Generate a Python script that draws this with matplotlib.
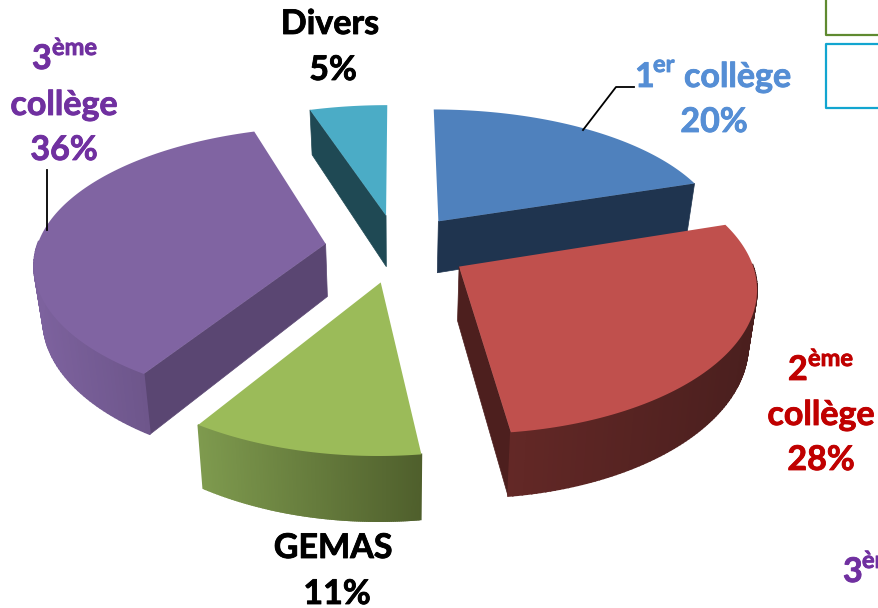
import numpy as np
import matplotlib
matplotlib.use("Agg")
import matplotlib.pyplot as plt
import matplotlib.patheffects as pe

# share of each slice, clockwise from the top
categories = ["1er collège", "2ème collège", "GEMAS", "3ème collège", "Divers"]
shares = [20, 28, 11, 36, 5]

top_colors = ["#4F81BD", "#C0504D", "#9BBB59", "#8064A2", "#4BACC6"]
face_colors = ["#1F344F", "#4D1F1E", "#5A7030", "#5A4672", "#1F4954"]
# outer wall colour, left end then right end on screen
wall_left = ["#1F344F", "#632826", "#7E9A4E", "#7D629E", "#1F4954"]
wall_right = ["#1F344F", "#4A1F1E", "#4F5F2C", "#5E4A78", "#1F4954"]

# position of the pie on the page
cx, cy = 397, 248
rx, px = 289, 0.13
k, p = 136, 0.15
depth = 53
shrink = 0.025
explode = 0.25


def project(u, v, z=0):
    wx = 1 + px * v
    wy = 1 + p * v
    return cx + rx * u / wx * (1 - shrink * z), cy + (-k * v + z * depth) / wy


def mix(c1, c2, t):
    a = np.array(matplotlib.colors.to_rgb(c1))
    b = np.array(matplotlib.colors.to_rgb(c2))
    return tuple(a + (b - a) * t)


fig = plt.figure(figsize=(8.79, 6.08), dpi=100)
ax = fig.add_axes([0, 0, 1, 1])
ax.set_xlim(0, 879)
ax.set_ylim(608, 0)
ax.axis("off")

bounds = np.cumsum([0] + shares) / sum(shares) * 2 * np.pi

# back slices first, red last because it overlaps the blue wall
for i in [4, 0, 3, 2, 1]:
    a0, a1 = bounds[i], bounds[i + 1]
    mid = (a0 + a1) / 2
    ou, ov = explode * np.sin(mid), explode * np.cos(mid)
    ang = np.linspace(a0, a1, 120)
    ru, rv = ou + np.sin(ang), ov + np.cos(ang)

    # cut faces that look towards the viewer
    for a, visible in [(a0, np.sin(a0) < 0), (a1, np.sin(a1) > 0)]:
        if visible:
            eu, ev = ou + np.sin(a), ov + np.cos(a)
            pts = [project(ou, ov), project(eu, ev), project(eu, ev, 1), project(ou, ov, 1)]
            ax.fill(*zip(*pts), color=face_colors[i], lw=0.5, zorder=i + 1)

    # outer wall, one thin strip per step for the gradient
    xs = [project(u, v)[0] for u, v in zip(ru, rv)]
    for j in range(len(ang) - 1):
        if np.cos((ang[j] + ang[j + 1]) / 2) > 0.02:
            continue
        t = (0.5 * (xs[j] + xs[j + 1]) - min(xs)) / max(max(xs) - min(xs), 1)
        pts = [project(ru[j], rv[j]), project(ru[j + 1], rv[j + 1]),
               project(ru[j + 1], rv[j + 1], 1), project(ru[j], rv[j], 1)]
        col = mix(wall_left[i], wall_right[i], t)
        ax.fill(*zip(*pts), color=col, lw=1.2, zorder=i + 1)

    # top of the slice
    outline = [project(ou, ov)] + [project(u, v) for u, v in zip(ru, rv)]
    ax.fill(*zip(*outline), color=top_colors[i], lw=0, zorder=i + 1.5)

# leader lines
ax.plot([583, 616, 634], [130, 87, 87], color="black", lw=1.3, zorder=10)
ax.plot([47, 47], [170, 230], color="black", lw=1.3, zorder=10)

# bits of the slide frames around the chart
ax.plot([879, 826.5, 826.5], [35, 35, 0], color="#5F8A30", lw=1.6)
ax.plot([879, 826.5, 826.5, 879], [108, 108, 44, 44], color="#12A5D0", lw=1.6)

font = dict(family="Lato", weight="bold", fontsize=24.5, va="baseline")
sup = dict(family="Lato", weight="bold", fontsize=17, va="baseline")


def label(x, y, s, color, ha="left", style=font):
    t = ax.text(x, y, s, color=color, ha=ha, **style)
    # Calibri bold is heavier than Lato bold
    t.set_path_effects([pe.withStroke(linewidth=0.6, foreground=color)])


label(330, 34, "Divers", "black", "center")
label(333, 80, "5%", "black", "center")
label(333, 558, "GEMAS", "black", "center")
label(337, 604, "11%", "black", "center")

blue = "#558ED5"
label(635, 87, "1", blue)
label(653, 72, "er", blue, style=sup)
label(684, 87, "collège", blue)
label(714, 132, "20%", blue, "center")

purple = "#7030A0"
label(32, 69, "3", purple)
label(52, 55, "ème", purple, style=sup)
label(64, 115, "collège", purple, "center")
label(64, 160, "36%", purple, "center")

red = "#C00000"
label(788, 380, "2", red)
label(808, 366, "ème", red, style=sup)
label(821, 425, "collège", red, "center")
label(821, 470, "28%", red, "center")

label(843, 582, "3", purple)
label(862, 568, "ème", purple, style=sup)

fig.savefig("out.png", dpi=100)
